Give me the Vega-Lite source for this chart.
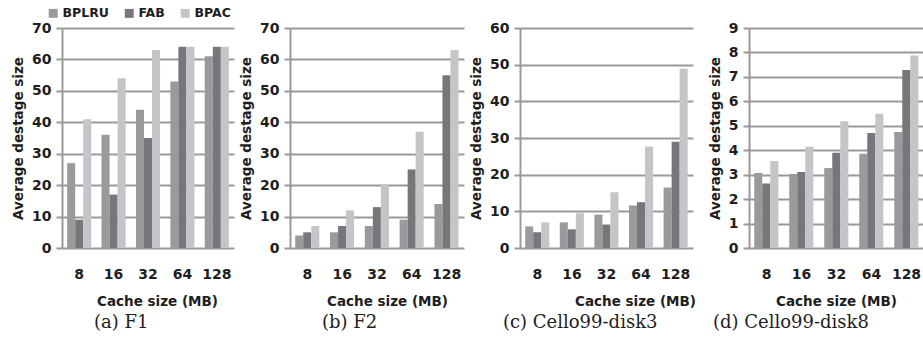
{
  "$schema": "https://vega.github.io/schema/vega-lite/v6.json",
  "background": "white",
  "padding": {"left": 11, "top": 7, "right": 0, "bottom": 0},
  "bounds": "flush",
  "spacing": 56,
  "data": {"values": [
    {"p":"a","size":"8","s":"BPLRU","v":27},{"p":"a","size":"8","s":"FAB","v":9},{"p":"a","size":"8","s":"BPAC","v":41},
    {"p":"a","size":"16","s":"BPLRU","v":36},{"p":"a","size":"16","s":"FAB","v":17},{"p":"a","size":"16","s":"BPAC","v":54},
    {"p":"a","size":"32","s":"BPLRU","v":44},{"p":"a","size":"32","s":"FAB","v":35},{"p":"a","size":"32","s":"BPAC","v":63},
    {"p":"a","size":"64","s":"BPLRU","v":53},{"p":"a","size":"64","s":"FAB","v":64},{"p":"a","size":"64","s":"BPAC","v":64},
    {"p":"a","size":"128","s":"BPLRU","v":61},{"p":"a","size":"128","s":"FAB","v":64},{"p":"a","size":"128","s":"BPAC","v":64},
    {"p":"b","size":"8","s":"BPLRU","v":4},{"p":"b","size":"8","s":"FAB","v":5},{"p":"b","size":"8","s":"BPAC","v":7},
    {"p":"b","size":"16","s":"BPLRU","v":5},{"p":"b","size":"16","s":"FAB","v":7},{"p":"b","size":"16","s":"BPAC","v":12},
    {"p":"b","size":"32","s":"BPLRU","v":7},{"p":"b","size":"32","s":"FAB","v":13},{"p":"b","size":"32","s":"BPAC","v":20},
    {"p":"b","size":"64","s":"BPLRU","v":9},{"p":"b","size":"64","s":"FAB","v":25},{"p":"b","size":"64","s":"BPAC","v":37},
    {"p":"b","size":"128","s":"BPLRU","v":14},{"p":"b","size":"128","s":"FAB","v":55},{"p":"b","size":"128","s":"BPAC","v":63},
    {"p":"c","size":"8","s":"BPLRU","v":5.9},{"p":"c","size":"8","s":"FAB","v":4.3},{"p":"c","size":"8","s":"BPAC","v":7.0},
    {"p":"c","size":"16","s":"BPLRU","v":7.0},{"p":"c","size":"16","s":"FAB","v":5.1},{"p":"c","size":"16","s":"BPAC","v":9.5},
    {"p":"c","size":"32","s":"BPLRU","v":9.1},{"p":"c","size":"32","s":"FAB","v":6.4},{"p":"c","size":"32","s":"BPAC","v":15.2},
    {"p":"c","size":"64","s":"BPLRU","v":11.6},{"p":"c","size":"64","s":"FAB","v":12.5},{"p":"c","size":"64","s":"BPAC","v":27.7},
    {"p":"c","size":"128","s":"BPLRU","v":16.5},{"p":"c","size":"128","s":"FAB","v":29.0},{"p":"c","size":"128","s":"BPAC","v":48.9},
    {"p":"d","size":"8","s":"BPLRU","v":3.07},{"p":"d","size":"8","s":"FAB","v":2.64},{"p":"d","size":"8","s":"BPAC","v":3.56},
    {"p":"d","size":"16","s":"BPLRU","v":3.03},{"p":"d","size":"16","s":"FAB","v":3.11},{"p":"d","size":"16","s":"BPAC","v":4.14},
    {"p":"d","size":"32","s":"BPLRU","v":3.27},{"p":"d","size":"32","s":"FAB","v":3.9},{"p":"d","size":"32","s":"BPAC","v":5.19},
    {"p":"d","size":"64","s":"BPLRU","v":3.86},{"p":"d","size":"64","s":"FAB","v":4.7},{"p":"d","size":"64","s":"BPAC","v":5.49},
    {"p":"d","size":"128","s":"BPLRU","v":4.75},{"p":"d","size":"128","s":"FAB","v":7.28},{"p":"d","size":"128","s":"BPAC","v":7.88}
  ]},
  "resolve": {"legend": {"color": "independent"}},
  "config": {
    "view": {"stroke": null},
    "axis": {
      "labelFont": "DejaVu Sans", "labelFontWeight": "bold", "labelFontSize": 14, "labelColor": "#1e1e1e",
      "titleFont": "DejaVu Sans", "titleFontWeight": "bold", "titleColor": "#1e1e1e"
    },
    "axisX": {"labelAngle": 0, "domain": false, "ticks": false, "grid": false, "labelPadding": 19, "titlePadding": 13, "titleFontSize": 13.5},
    "axisY": {"titleFontSize": 13.5, "domainColor": "#999999", "domainWidth": 2, "tickColor": "#999999", "tickWidth": 2, "tickSize": 6, "gridColor": "#999999", "gridWidth": 2, "labelPadding": 5, "titlePadding": 6},
    "title": {"font": "DejaVu Serif", "fontSize": 18, "fontWeight": "normal", "color": "#1e1e1e", "orient": "bottom", "anchor": "start", "frame": "group", "offset": 6}
  },
  "hconcat": [
    {
      "width": 172, "height": 220,
      "transform": [{"filter": "datum.p === 'a'"}],
      "title": {"text": "(a) F1", "dx": 32},
      "mark": {"type": "bar"},
      "encoding": {
        "x": {"field": "size", "type": "nominal", "sort": ["8","16","32","64","128"], "scale": {"paddingInner": 0.3, "paddingOuter": 0.15}, "axis": {"title": "Cache size (MB)", "titleX": 95}},
        "xOffset": {"field": "s", "type": "nominal", "sort": ["BPLRU","FAB","BPAC"], "scale": {"paddingInner": 0, "paddingOuter": 0}},
        "y": {"field": "v", "type": "quantitative", "scale": {"domain": [0, 70]}, "axis": {"title": "Average destage size", "values": [0,10,20,30,40,50,60,70]}},
        "color": {"field": "s", "type": "nominal", "scale": {"domain": ["BPLRU","FAB","BPAC"], "range": ["#9a9a9c","#77777b","#c5c5c9"]},
          "legend": {"title": null, "orient": "none", "legendX": -15, "legendY": -21, "direction": "horizontal", "symbolType": "square", "symbolSize": 80, "symbolStrokeWidth": 0, "labelFont": "DejaVu Sans", "labelFontWeight": "bold", "labelFontSize": 12.5, "labelColor": "#1e1e1e", "labelOffset": 3, "columnPadding": 14}}
      }
    },
    {
      "width": 174, "height": 220,
      "transform": [{"filter": "datum.p === 'b'"}],
      "title": {"text": "(b) F2", "dx": 32},
      "mark": {"type": "bar"},
      "encoding": {
        "x": {"field": "size", "type": "nominal", "sort": ["8","16","32","64","128"], "scale": {"paddingInner": 0.3, "paddingOuter": 0.15}, "axis": {"title": "Cache size (MB)", "titleX": 97}},
        "xOffset": {"field": "s", "type": "nominal", "sort": ["BPLRU","FAB","BPAC"], "scale": {"paddingInner": 0, "paddingOuter": 0}},
        "y": {"field": "v", "type": "quantitative", "scale": {"domain": [0, 70]}, "axis": {"title": "Average destage size", "values": [0,10,20,30,40,50,60,70]}},
        "color": {"field": "s", "type": "nominal", "scale": {"domain": ["BPLRU","FAB","BPAC"], "range": ["#9a9a9c","#77777b","#c5c5c9"]}, "legend": null}
      }
    },
    {
      "width": 173, "height": 220,
      "transform": [{"filter": "datum.p === 'c'"}],
      "title": {"text": "(c) Cello99-disk3", "dx": -17},
      "mark": {"type": "bar"},
      "encoding": {
        "x": {"field": "size", "type": "nominal", "sort": ["8","16","32","64","128"], "scale": {"paddingInner": 0.3, "paddingOuter": 0.15}, "axis": {"title": "Cache size (MB)", "titleX": 115}},
        "xOffset": {"field": "s", "type": "nominal", "sort": ["BPLRU","FAB","BPAC"], "scale": {"paddingInner": 0, "paddingOuter": 0}},
        "y": {"field": "v", "type": "quantitative", "scale": {"domain": [0, 60]}, "axis": {"title": "Average destage size", "values": [0,10,20,30,40,50,60]}},
        "color": {"field": "s", "type": "nominal", "scale": {"domain": ["BPLRU","FAB","BPAC"], "range": ["#9a9a9c","#77777b","#c5c5c9"]}, "legend": null}
      }
    },
    {
      "width": 175, "height": 220,
      "transform": [{"filter": "datum.p === 'd'"}],
      "title": {"text": "(d) Cello99-disk8", "dx": -36},
      "mark": {"type": "bar"},
      "encoding": {
        "x": {"field": "size", "type": "nominal", "sort": ["8","16","32","64","128"], "scale": {"paddingInner": 0.3, "paddingOuter": 0.15}, "axis": {"title": "Cache size (MB)", "titleX": 87}},
        "xOffset": {"field": "s", "type": "nominal", "sort": ["BPLRU","FAB","BPAC"], "scale": {"paddingInner": 0, "paddingOuter": 0}},
        "y": {"field": "v", "type": "quantitative", "scale": {"domain": [0, 9]}, "axis": {"title": "Average destage size", "values": [0,1,2,3,4,5,6,7,8,9]}},
        "color": {"field": "s", "type": "nominal", "scale": {"domain": ["BPLRU","FAB","BPAC"], "range": ["#9a9a9c","#77777b","#c5c5c9"]}, "legend": null}
      }
    }
  ]
}
